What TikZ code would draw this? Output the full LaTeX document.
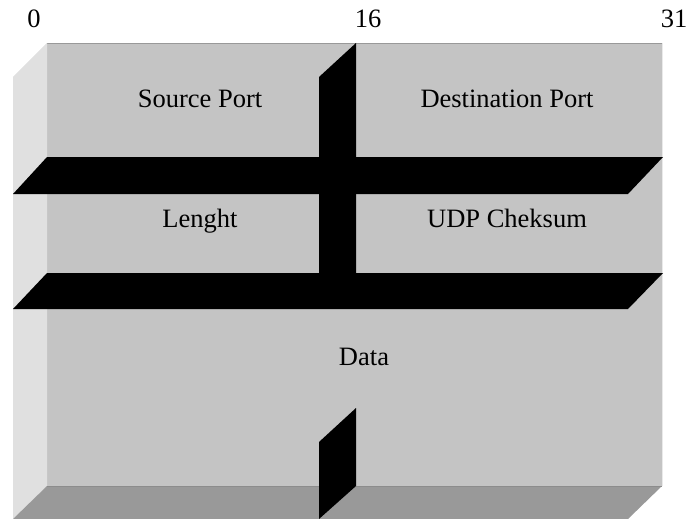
\documentclass[tikz,border=0pt]{standalone}
\usepackage{fontspec}
\setmainfont{Liberation Serif}
\definecolor{frontgray}{HTML}{C4C4C4}
\definecolor{sidegray}{HTML}{E0E0E0}
\definecolor{bottomgray}{HTML}{999999}
\begin{document}
\begin{tikzpicture}[x=1pt,y=-1pt,
  lbl/.style={font=\fontsize{26.5}{30}\selectfont, anchor=base, inner sep=0pt},
  wall/.style={fill=black, draw=none}]
\useasboundingbox (0,0) rectangle (689,519);
% faces
\fill[frontgray] (47,43) rectangle (662,486);
\draw[gray!80, line width=0.8] (47,43) -- (662,43);
\draw[sidegray!70!white, line width=1] (662,43) -- (662,486);
\fill[sidegray] (13,77) -- (47,43) -- (47,486) -- (13,519) -- cycle;
\fill[bottomgray] (47,486) -- (662,486) -- (628,519) -- (13,519) -- cycle;
\draw[gray!90, line width=0.8] (47,486) -- (662,486);
% walls
\fill[wall] (356,43) -- (356,273) -- (319,273) -- (319,77) -- cycle;
\fill[wall] (47,157) -- (663,157) -- (628,194) -- (13,194) -- cycle;
\fill[wall] (47,273) -- (663,273) -- (628,309) -- (13,309) -- cycle;
\fill[wall] (356,408) -- (356,486) -- (319,519) -- (319,442) -- cycle;
% labels
\node[lbl] (b0) at (34,28) {0};
\node[lbl] (b16) at (368,28) {16};
\node[lbl] (b31) at (674,28) {31};
\node[lbl] (src) at (200,107) {Source Port};
\node[lbl] (dst) at (507,107) {Destination Port};
\node[lbl] (len) at (200,227) {Lenght};
\node[lbl] (chk) at (507,227) {UDP Cheksum};
\node[lbl] (data) at (364,365) {Data};
\end{tikzpicture}
\end{document}
